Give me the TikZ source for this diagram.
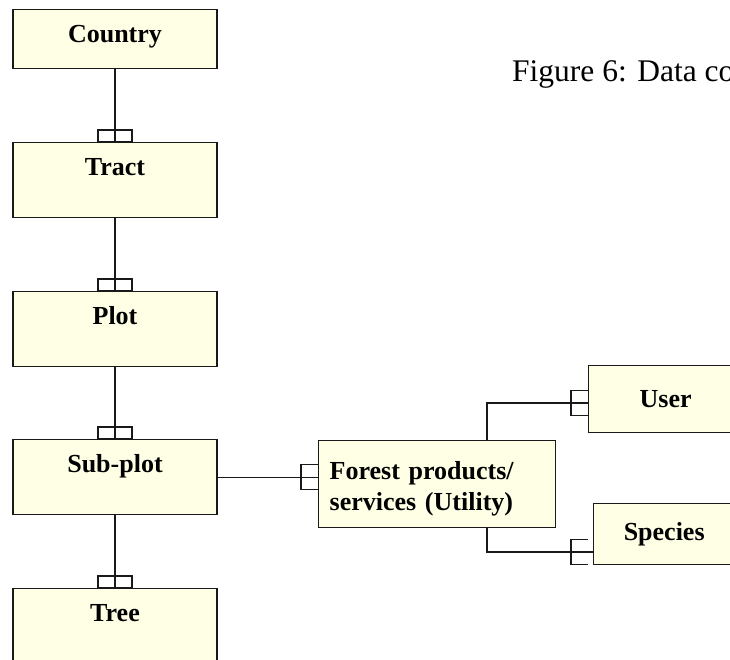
\documentclass[tikz,border=0pt]{standalone}
\usepackage{fontspec}
\setmainfont{Liberation Serif}
\usetikzlibrary{calc}
\definecolor{boxfill}{RGB}{255,255,229}
\definecolor{ink}{RGB}{25,25,25}
\begin{document}
\begin{tikzpicture}[x=1pt,y=-1pt,
  conn/.style={draw=ink, line width=1.3pt},
  entity/.style={draw=ink, fill=boxfill, line width=1.4pt, inner sep=0pt,
    font=\fontsize{26}{31}\selectfont\bfseries},
  colbox/.style={entity, minimum width=204pt, text height=33pt, text depth=42pt, anchor=north},
  sidebox/.style={entity, anchor=north west},
  vmark/.pic={\draw[conn] (-17,-12) rectangle (17,0);},
  hmark/.pic={\draw[conn] (0,-12.5) -| (-17,12.5) -- (0,12.5);}]
\useasboundingbox (0,0) rectangle (730,660);
\clip (0,0) rectangle (730,660);
% entities
\node[colbox, text depth=26pt] (country) at (115,9) {Country};
\node[colbox] (tract) at (115,142) {Tract};
\node[colbox] (plot) at (115,291) {Plot};
\node[colbox] (subplot) at (115,439) {Sub-plot};
\node[colbox] (tree) at (115,588) {Tree};
\node[sidebox, text width=215pt, inner xsep=11pt, align=left, text height=39pt, text depth=48pt]
  (forest) at (318,440) {Forest products/\\services (Utility)};
\node[sidebox, minimum width=154pt, minimum height=67pt] (user) at (588,365) {User};
\node[sidebox, minimum width=141pt, minimum height=61pt] (species) at (593,503) {Species};
% caption
\node[font=\fontsize{31.5}{36}\selectfont, anchor=base west, inner sep=0pt] (caption) at (512,82) {Figure 6: Data co};
% connectors
\coordinate (uj) at (487,403);
\coordinate (sj) at (487,552);
\draw[conn] (country.south) -- (tract.north);
\draw[conn] (tract.south) -- (plot.north);
\draw[conn] (plot.south) -- (subplot.north);
\draw[conn] (subplot.south) -- (tree.north);
\draw[conn] (subplot.east) -- (subplot.east -| forest.west);
\draw[conn] (forest.north -| uj) -- (uj) -- (uj -| user.west);
\draw[conn] (forest.south -| uj) -- (sj) -- (sj -| species.west);
% cardinality marks
\pic at (tract.north) {vmark};
\pic at (plot.north) {vmark};
\pic at (subplot.north) {vmark};
\pic at (tree.north) {vmark};
\pic at (subplot.east -| forest.west) {hmark};
\pic at (uj -| user.west) {hmark};
\pic at ($(sj -| species.west)+(-5,0)$) {hmark};
\end{tikzpicture}
\end{document}
